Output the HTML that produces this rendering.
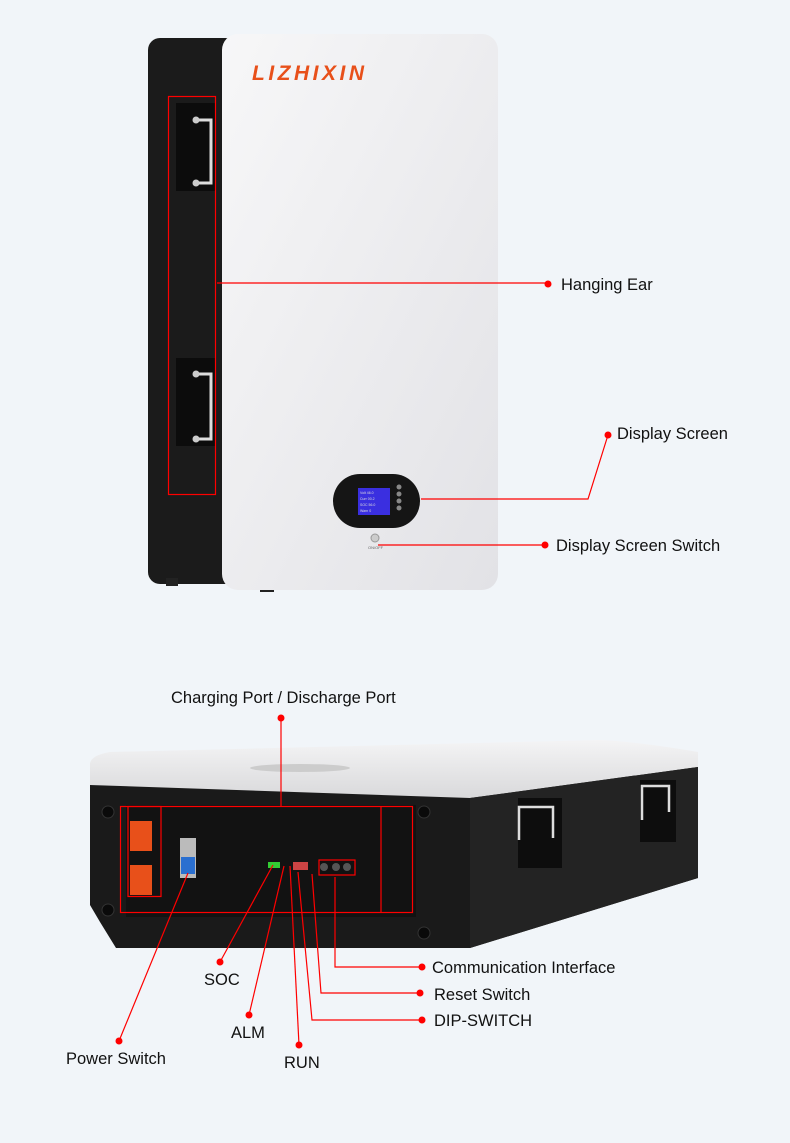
<!DOCTYPE html>
<html><head><meta charset="utf-8"><style>
html,body{margin:0;padding:0}
body{width:790px;height:1143px;background:#f1f5f9;overflow:hidden;font-family:"Liberation Sans",sans-serif}
svg{position:absolute;left:0;top:0}
</style></head><body>
<svg width="790" height="1143" viewBox="0 0 790 1143" xmlns="http://www.w3.org/2000/svg">
<defs>
<linearGradient id="wf" x1="0" y1="0" x2="1" y2="1"><stop offset="0" stop-color="#f7f7f8"/><stop offset="1" stop-color="#e2e2e6"/></linearGradient>
<linearGradient id="tp" x1="0" y1="0" x2="0" y2="1"><stop offset="0" stop-color="#f4f4f5"/><stop offset="1" stop-color="#d8d8da"/></linearGradient>
</defs>
<rect x="148" y="38" width="90" height="546" rx="12" fill="#1b1b1b"/>
<rect x="166" y="578" width="12" height="8" fill="#222"/>
<rect x="260" y="586" width="14" height="6" fill="#222"/>
<rect x="222" y="34" width="276" height="556" rx="16" fill="url(#wf)"/>
<text x="252" y="80" font-size="21" font-weight="bold" font-style="italic" fill="#e8501a" letter-spacing="3.5">LIZHIXIN</text>
<rect x="176" y="103" width="40" height="88" fill="#0c0c0c"/>
<rect x="176" y="358" width="40" height="88" fill="#0c0c0c"/>
<path d="M196 120 H211 V183 H196" fill="none" stroke="#ddd" stroke-width="3"/>
<path d="M196 374 H211 V439 H196" fill="none" stroke="#ddd" stroke-width="3"/>
<circle cx="196" cy="120" r="3.5" fill="#ccc"/><circle cx="196" cy="183" r="3.5" fill="#ccc"/>
<circle cx="196" cy="374" r="3.5" fill="#ccc"/><circle cx="196" cy="439" r="3.5" fill="#ccc"/>
<rect x="168.5" y="96.5" width="47" height="398" fill="none" stroke="#f00" stroke-width="1.2"/>
<rect x="333" y="474" width="87" height="54" rx="27" fill="#151515"/>
<rect x="358" y="488" width="32" height="27" fill="#3a2fe0"/>
<g fill="#ddd" font-size="3.5"><text x="360" y="494">Volt  46.0</text><text x="360" y="500">Curr  00.2</text><text x="360" y="506">SOC  56.0</text><text x="360" y="512">Warn   0</text></g>
<g fill="#888"><circle cx="399" cy="487" r="2.5"/><circle cx="399" cy="494" r="2.5"/><circle cx="399" cy="501" r="2.5"/><circle cx="399" cy="508" r="2.5"/></g>
<circle cx="375" cy="538" r="4" fill="#ccc" stroke="#999"/>
<text x="368" y="549" font-size="4" fill="#666">ON/OFF</text>
<g stroke="#f00" stroke-width="1.2" fill="none">
<path d="M217 283 H548"/><path d="M421 499 H588 L608 435"/><path d="M378 545 H545"/>
</g>
<g fill="#f00"><circle cx="548" cy="284" r="3.5"/><circle cx="608" cy="435" r="3.5"/><circle cx="545" cy="545" r="3.5"/></g>
<g font-size="16.5" fill="#111">
<text x="561" y="290">Hanging Ear</text><text x="617" y="439">Display Screen</text><text x="556" y="551">Display Screen Switch</text>
</g>
<path d="M90 763 Q92 755 110 752 L600 740 Q640 742 698 752 L698 770 L470 800 L90 785 Z" fill="url(#tp)"/>
<path d="M90 785 L470 798 L698 767 L698 878 L470 948 L116 948 L100 922 L90 905 Z" fill="#1a1a1a"/>
<path d="M470 798 L698 767 L698 878 L470 948 Z" fill="#232323"/>
<ellipse cx="300" cy="768" rx="50" ry="4" fill="#ccc"/>
<rect x="126" y="805" width="290" height="112" fill="#121212"/>
<rect x="518" y="798" width="44" height="70" fill="#0d0d0d"/>
<rect x="640" y="780" width="36" height="62" fill="#0d0d0d"/>
<path d="M519 840 V807 H553 V838" fill="none" stroke="#ddd" stroke-width="2.5"/>
<path d="M642 820 V786 H669 V812" fill="none" stroke="#ddd" stroke-width="2.5"/>
<g fill="#0a0a0a" stroke="#333"><circle cx="108" cy="812" r="6"/><circle cx="108" cy="910" r="6"/><circle cx="424" cy="812" r="6"/><circle cx="424" cy="933" r="6"/></g>
<rect x="130" y="821" width="22" height="30" fill="#e8501a"/>
<rect x="130" y="865" width="22" height="30" fill="#e8501a"/>
<rect x="180" y="838" width="16" height="40" fill="#bbb"/>
<rect x="181" y="857" width="14" height="17" fill="#2a6fd0"/>
<rect x="268" y="862" width="12" height="6" fill="#3c3"/>
<rect x="293" y="862" width="15" height="8" fill="#c44"/>
<rect x="319" y="860" width="36" height="15" fill="#111"/>
<g fill="#555"><circle cx="324" cy="867" r="4"/><circle cx="336" cy="867" r="4"/><circle cx="347" cy="867" r="4"/></g>
<g stroke="#f00" stroke-width="1.2" fill="none">
<rect x="120.5" y="806.5" width="292" height="106"/>
<rect x="128" y="806.5" width="33" height="90"/>
<path d="M381 806.5 V913"/>
<rect x="319" y="860" width="36" height="15"/>
<path d="M281 718 V806"/>
<path d="M119 1041 L188 873"/><path d="M220 962 L273 865"/><path d="M249 1015 L284 866"/><path d="M299 1045 L290 866"/>
<path d="M298 872 L312 1020 H422"/><path d="M312 874 L321 993 H420"/><path d="M335 877 V967 H422"/>
</g>
<g fill="#f00"><circle cx="281" cy="718" r="3.5"/><circle cx="119" cy="1041" r="3.5"/><circle cx="220" cy="962" r="3.5"/><circle cx="249" cy="1015" r="3.5"/><circle cx="299" cy="1045" r="3.5"/><circle cx="422" cy="1020" r="3.5"/><circle cx="420" cy="993" r="3.5"/><circle cx="422" cy="967" r="3.5"/></g>
<g font-size="16.5" fill="#111">
<text x="171" y="703">Charging Port / Discharge Port</text>
<text x="204" y="985">SOC</text><text x="231" y="1038">ALM</text><text x="284" y="1068">RUN</text>
<text x="66" y="1064">Power Switch</text>
<text x="432" y="973">Communication Interface</text><text x="434" y="1000">Reset Switch</text><text x="434" y="1026">DIP-SWITCH</text>
</g>
</svg>
</body></html>
